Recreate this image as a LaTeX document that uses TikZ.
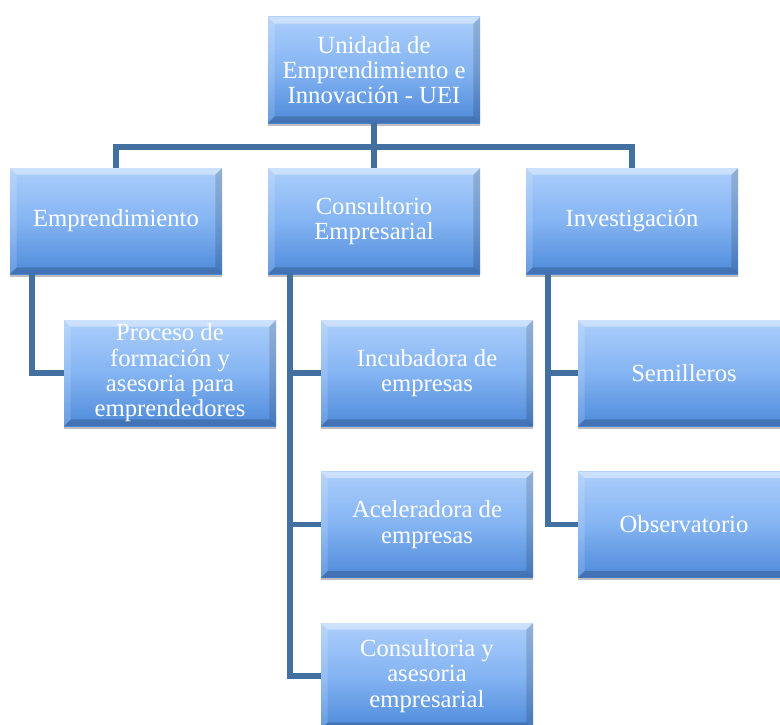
\documentclass[tikz,border=0pt]{standalone}
\usepackage{fontspec}
\setmainfont{Liberation Serif}
\usetikzlibrary{shadows}
\definecolor{linec}{RGB}{66,112,160}
\definecolor{boxtop}{RGB}{172,206,251}
\definecolor{boxmid}{RGB}{132,180,242}
\definecolor{boxbot}{RGB}{78,138,218}
\tikzset{
  orgbox/.style={rectangle, minimum width=159pt, minimum height=79.5pt, inner sep=0pt,
    top color=boxtop, bottom color=boxbot, middle color=boxmid, text=white, align=center,
    font=\fontsize{18.5}{19}\selectfont,
    drop shadow={shadow xshift=0pt, shadow yshift=-2pt, opacity=0.25, fill=black},
    path picture={
      \fill[white,opacity=0.4] (path picture bounding box.north west) -- (path picture bounding box.north east)
        -- ([shift={(-5pt,-5pt)}]path picture bounding box.north east) -- ([shift={(5pt,-5pt)}]path picture bounding box.north west) -- cycle;
      \fill[white,opacity=0.15] (path picture bounding box.north west) -- ([shift={(5pt,-5pt)}]path picture bounding box.north west)
        -- ([shift={(5pt,5pt)}]path picture bounding box.south west) -- (path picture bounding box.south west) -- cycle;
      \fill[black,opacity=0.14] (path picture bounding box.north east) -- ([shift={(-5pt,-5pt)}]path picture bounding box.north east)
        -- ([shift={(-5pt,5pt)}]path picture bounding box.south east) -- (path picture bounding box.south east) -- cycle;
      \fill[black,opacity=0.18] (path picture bounding box.south west) -- (path picture bounding box.south east)
        -- ([shift={(-5pt,5pt)}]path picture bounding box.south east) -- ([shift={(5pt,5pt)}]path picture bounding box.south west) -- cycle;
    }},
  conn/.style={draw=linec, line width=4.2pt}
}
\begin{document}
\begin{tikzpicture}[x=0.75pt,y=-0.75pt]
\useasboundingbox (0,0) rectangle (780,724);
\clip (0,0) rectangle (780,724);
\fill[white] (0,0) rectangle (780,724);
% nodes
\node[orgbox] (uei) at (374,70) {Unidada de\\Emprendimiento e\\Innovación - UEI};
\node[orgbox] (emp) at (116,221) {Emprendimiento};
\node[orgbox] (cons) at (374,221) {Consultorio\\Empresarial};
\node[orgbox] (inv) at (632,221) {Investigación};
\node[orgbox] (proc) at (170,373) {Proceso de\\formación y\\asesoria para\\emprendedores};
\node[orgbox] (incu) at (427,373) {Incubadora de\\empresas};
\node[orgbox] (acel) at (427,524.5) {Aceleradora de\\empresas};
\node[orgbox] (cyae) at (427,676) {Consultoria y\\asesoria\\empresarial};
\node[orgbox] (semi) at (684,373) {Semilleros};
\node[orgbox] (obse) at (684,524.5) {Observatorio};
% connector anchor points
\coordinate (bar) at (374,147);
\coordinate (eb) at ([xshift=16.5pt]emp.south west);
\coordinate (cb) at ([xshift=16.5pt]cons.south west);
\coordinate (ib) at ([xshift=16.5pt]inv.south west);
% connectors
\draw[conn] (uei.south) -- (bar);
\draw[conn] (emp.north) -- (emp.north |- bar) -- (inv.north |- bar) -- (inv.north);
\draw[conn] (bar) -- (cons.north);
\draw[conn] (eb) |- (proc.west);
\draw[conn] (cb) |- (cyae.west);
\draw[conn] (cb |- incu.west) -- (incu.west);
\draw[conn] (cb |- acel.west) -- (acel.west);
\draw[conn] (ib) |- (obse.west);
\draw[conn] (ib |- semi.west) -- (semi.west);
\end{tikzpicture}
\end{document}
